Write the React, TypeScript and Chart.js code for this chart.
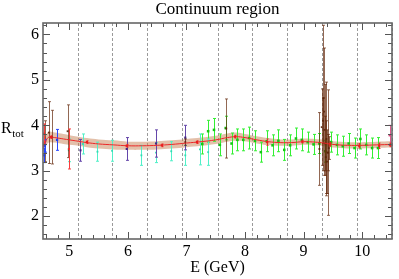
import { useEffect, useRef } from "react";
import { Chart, registerables } from "chart.js";
Chart.register(...registerables);

const X_MIN = 4.55;
const X_MAX = 10.51;
const Y_MIN = 1.5;
const Y_MAX = 6.25;
const xTickLabels = [5, 6, 7, 8, 9, 10];
const yTickLabels = [2, 3, 4, 5, 6];
const MINOR_STEP = 0.2;
const regionEdges = [5.14, 5.73, 6.33, 6.93, 7.53, 8.12, 8.72, 9.32, 9.92, 10.51];

// fitted band (centre and half width)
const bandX = [4.55, 4.6, 4.65, 4.75, 4.9, 5.1, 5.3, 5.5, 5.75, 6.0, 6.25, 6.5, 6.75, 7.0, 7.25, 7.5, 7.7, 7.85, 8.0, 8.2, 8.4, 8.6, 8.8, 9.0, 9.2, 9.35, 9.5, 9.75, 10.0, 10.25, 10.51];
const bandMid = [3.52, 3.66, 3.74, 3.73, 3.7, 3.66, 3.62, 3.59, 3.57, 3.55, 3.55, 3.56, 3.58, 3.61, 3.64, 3.68, 3.73, 3.75, 3.73, 3.68, 3.64, 3.62, 3.62, 3.64, 3.63, 3.61, 3.58, 3.56, 3.56, 3.57, 3.58];
const bandHalf = [0.12, 0.12, 0.12, 0.11, 0.11, 0.1, 0.1, 0.1, 0.1, 0.09, 0.09, 0.09, 0.09, 0.09, 0.09, 0.09, 0.09, 0.09, 0.08, 0.08, 0.08, 0.07, 0.07, 0.07, 0.07, 0.07, 0.07, 0.07, 0.07, 0.07, 0.07];

// data series
const redX = [4.69, 5.3, 5.98, 6.58, 7.18, 7.83, 8.38, 8.98, 9.45, 9.95, 10.29, 10.48];
const redY = [3.74, 3.63, 3.55, 3.56, 3.63, 3.75, 3.63, 3.64, 3.58, 3.55, 3.55, 3.57];
const redErr = [0.03, 0.03, 0.03, 0.03, 0.03, 0.03, 0.07, 0.03, 0.04, 0.05, 0.06, 0.04];

const redBarX = [4.57, 4.99];
const redBarY = [3.82, 3.48];
const redBarErr = [0.21, 0.44];

const pinkX = [10.47];
const pinkY = [3.78];
const pinkErr = [0.22];

const blueX = [4.57, 4.58, 4.79];
const blueY = [3.34, 3.55, 3.68];
const blueErr = [0.16, 0.14, 0.23];

const purpleX = [5.19, 5.98, 6.48, 6.98];
const purpleY = [3.45, 3.48, 3.6, 3.73];
const purpleErr = [0.24, 0.25, 0.3, 0.27];

const cyanX = [4.99, 5.23, 5.48, 5.73, 6.23, 6.48, 6.74, 6.98, 7.23, 7.37];
const cyanY = [3.45, 3.59, 3.42, 3.44, 3.34, 3.4, 3.43, 3.34, 3.47, 3.41];
const cyanErr = [0.25, 0.22, 0.21, 0.23, 0.22, 0.22, 0.21, 0.22, 0.34, 0.29];

const greenX = [7.27, 7.37, 7.47, 7.57, 7.67, 7.77, 7.87, 7.97, 8.07, 8.17, 8.27, 8.37, 8.47, 8.57, 8.67, 8.77, 8.87, 8.97, 9.07, 9.17, 9.27, 9.37, 9.47, 9.57, 9.67, 9.77, 9.87, 9.97, 10.07, 10.17, 10.27];
const greenY = [3.59, 3.87, 3.9, 3.57, 3.94, 3.6, 3.68, 3.68, 3.72, 3.66, 3.41, 3.65, 3.56, 3.66, 3.46, 3.56, 3.71, 3.68, 3.63, 3.58, 3.6, 3.43, 3.63, 3.57, 3.54, 3.6, 3.5, 3.7, 3.57, 3.5, 3.5];
const greenErr = [0.22, 0.24, 0.25, 0.24, 0.26, 0.23, 0.24, 0.24, 0.24, 0.22, 0.22, 0.23, 0.23, 0.24, 0.23, 0.23, 0.23, 0.24, 0.22, 0.22, 0.22, 0.24, 0.22, 0.22, 0.22, 0.22, 0.22, 0.22, 0.22, 0.22, 0.23];

const brownX = [4.59, 4.65, 4.7, 4.97, 6.98, 7.68, 9.27, 9.31, 9.33, 9.34, 9.35, 9.36, 9.37, 9.38, 9.39, 9.4, 9.41, 9.42, 9.43];
const brownY = [3.65, 3.84, 3.74, 3.87, 3.63, 3.93, 3.48, 3.96, 4.1, 4.6, 4.3, 3.9, 3.6, 3.3, 3.7, 3.2, 3.4, 3.4, 3.5];
const brownErr = [0.45, 0.68, 0.59, 0.58, 0.07, 0.65, 0.8, 0.84, 0.5, 1.6, 1.4, 1.0, 0.6, 0.8, 1.25, 0.7, 1.38, 0.4, 0.25];

const SERIF = "'Liberation Serif', 'DejaVu Serif', serif";

const pts = (xs: number[], ys: number[]) => xs.map((x, i) => ({ x, y: ys[i] }));

function minorTicks(min: number, max: number, step: number) {
  const out: number[] = [];
  for (let k = Math.ceil(min / step - 1e-9); k * step <= max + 1e-9; k++) out.push(+(k * step).toFixed(4));
  return out;
}

const errorBarPlugin = {
  id: "errorBars",
  beforeDatasetDraw(chart: any, args: any) {
    const ds = chart.data.datasets[args.index];
    if (!ds.errors) return;
    const { ctx, chartArea, scales } = chart;
    const xs = scales.x, ys = scales.y;
    ctx.save();
    ctx.beginPath();
    ctx.rect(chartArea.left, chartArea.top, chartArea.right - chartArea.left, chartArea.bottom - chartArea.top);
    ctx.clip();
    ctx.strokeStyle = ds.errColor;
    ctx.lineWidth = ds.errWidth || 1;
    const cap = ds.capHalf ?? 1.5;
    ds.data.forEach((p: any, i: number) => {
      const e = ds.errors[i];
      const px = Math.round(xs.getPixelForValue(p.x)) + 0.5;
      const y1 = ys.getPixelForValue(p.y + e);
      const y2 = ys.getPixelForValue(p.y - e);
      ctx.beginPath();
      ctx.moveTo(px, y1);
      ctx.lineTo(px, y2);
      if (cap > 0) {
        ctx.moveTo(px - cap, y1);
        ctx.lineTo(px + cap, y1);
        ctx.moveTo(px - cap, y2);
        ctx.lineTo(px + cap, y2);
      }
      ctx.stroke();
    });
    ctx.restore();
  },
};

const framePlugin = {
  id: "frame",
  beforeDatasetsDraw(chart: any) {
    const { ctx, chartArea, scales } = chart;
    ctx.save();
    ctx.strokeStyle = "#9a9a9a";
    ctx.lineWidth = 1;
    ctx.setLineDash([3, 2]);
    regionEdges.forEach((v) => {
      const px = Math.round(scales.x.getPixelForValue(v)) + 0.5;
      ctx.beginPath();
      ctx.moveTo(px, chartArea.top);
      ctx.lineTo(px, chartArea.bottom);
      ctx.stroke();
    });
    ctx.restore();
  },
  afterDraw(chart: any) {
    const { ctx, chartArea, scales } = chart;
    const { left, right, top, bottom } = chartArea;
    ctx.save();
    ctx.strokeStyle = "#555";
    ctx.lineWidth = 1;
    const major = 7, minor = 4;
    minorTicks(X_MIN, X_MAX, MINOR_STEP).forEach((v) => {
      const isMajor = xTickLabels.some((t) => Math.abs(t - v) < 1e-6);
      const L = isMajor ? major : minor;
      const px = Math.round(scales.x.getPixelForValue(v)) + 0.5;
      ctx.beginPath();
      ctx.moveTo(px, bottom);
      ctx.lineTo(px, bottom - L);
      ctx.moveTo(px, top);
      ctx.lineTo(px, top + L);
      ctx.stroke();
    });
    minorTicks(Y_MIN, Y_MAX, MINOR_STEP).forEach((v) => {
      const isMajor = yTickLabels.some((t) => Math.abs(t - v) < 1e-6);
      const L = isMajor ? major : minor;
      const py = Math.round(scales.y.getPixelForValue(v)) + 0.5;
      ctx.beginPath();
      ctx.moveTo(left, py);
      ctx.lineTo(left + L, py);
      ctx.moveTo(right, py);
      ctx.lineTo(right - L, py);
      ctx.stroke();
    });
    ctx.lineWidth = 1.6;
    ctx.strokeStyle = "#666";
    ctx.strokeRect(left, top, right - left, bottom - top);
    // title and y label
    ctx.fillStyle = "#000";
    ctx.textBaseline = "alphabetic";
    ctx.textAlign = "center";
    ctx.font = `17px ${SERIF}`;
    ctx.fillText("Continuum region", (left + right) / 2, 14);
    ctx.textAlign = "left";
    ctx.font = `16px ${SERIF}`;
    ctx.fillText("R", 1, 133);
    const rw = ctx.measureText("R").width;
    ctx.font = `11px ${SERIF}`;
    ctx.fillText("tot", 1 + rw + 0.5, 137);
    ctx.restore();
  },
};

function errSet(label: string, xs: number[], ys: number[], errs: number[], color: string, marker: string, radius: number, cap = 1.5) {
  return {
    type: "scatter" as const,
    label,
    data: pts(xs, ys),
    errors: errs,
    errColor: color,
    capHalf: cap,
    showLine: false,
    pointStyle: "rect",
    pointRadius: radius,
    pointBackgroundColor: marker,
    pointBorderColor: marker,
    pointBorderWidth: 0,
  };
}

export default function App() {
  const ref = useRef<HTMLCanvasElement>(null);
  useEffect(() => {
    if (!ref.current) return;
    const bandUp = bandX.map((x, i) => ({ x, y: bandMid[i] + bandHalf[i] }));
    const bandLow = bandX.map((x, i) => ({ x, y: bandMid[i] - bandHalf[i] }));
    const chart = new Chart(ref.current, {
      type: "scatter",
      data: {
        datasets: [
          errSet("red", redX, redY, redErr, "rgba(235,40,40,0.9)", "rgb(235,30,30)", 1.6, 1),
          {
            type: "line",
            label: "fit",
            data: pts(bandX, bandMid),
            borderColor: "rgb(235,40,40)",
            borderWidth: 1,
            pointRadius: 0,
            tension: 0.4,
            fill: false,
          } as any,
          errSet("pink", pinkX, pinkY, pinkErr, "rgb(220,90,140)", "rgb(220,60,120)", 1.5, 2),
          errSet("redbars", redBarX, redBarY, redBarErr, "rgb(250,60,60)", "rgb(240,40,40)", 1.3, 1.5),
          errSet("blue", blueX, blueY, blueErr, "rgb(40,70,255)", "rgb(30,60,240)", 1.6, 1.5),
          errSet("brown", brownX, brownY, brownErr, "rgba(100,40,12,0.7)", "rgba(90,35,10,0.9)", 1.3, 1.5),
          errSet("purple", purpleX, purpleY, purpleErr, "rgb(100,70,170)", "rgb(70,40,130)", 1.5, 1.5),
          errSet("cyan", cyanX, cyanY, cyanErr, "rgb(80,240,200)", "rgb(50,220,180)", 1.3, 1.5),
          errSet("green", greenX, greenY, greenErr, "rgb(50,240,50)", "rgb(20,200,20)", 1.8, 1.5),
          {
            type: "line",
            label: "bandUp",
            data: bandUp,
            borderWidth: 0,
            borderColor: "rgba(0,0,0,0)",
            pointRadius: 0,
            tension: 0.4,
            fill: "+1",
            backgroundColor: "rgba(200,130,85,0.5)",
          } as any,
          {
            type: "line",
            label: "bandLow",
            data: bandLow,
            borderWidth: 0,
            borderColor: "rgba(0,0,0,0)",
            pointRadius: 0,
            tension: 0.4,
            fill: false,
          } as any,
        ],
      },
      options: {
        animation: false,
        responsive: false,
        layout: { padding: { top: 23, right: 7, left: 0, bottom: 0 } },
        plugins: { legend: { display: false }, tooltip: { enabled: false }, title: { display: false } },
        scales: {
          x: {
            type: "linear",
            position: "bottom",
            min: X_MIN,
            max: X_MAX,
            grid: { display: false, drawTicks: false },
            border: { display: false },
            afterBuildTicks: (s: any) => {
              s.ticks = xTickLabels.map((v) => ({ value: v }));
            },
            afterFit: (s: any) => {
              s.height = 40;
            },
            ticks: {
              autoSkip: false,
              maxRotation: 0,
              padding: 3,
              color: "#000",
              font: { family: SERIF, size: 16 },
            },
            title: {
              display: true,
              text: "E (GeV)",
              color: "#000",
              font: { family: SERIF, size: 16 },
              padding: { top: 0, bottom: 2 },
            },
          },
          y: {
            type: "linear",
            min: Y_MIN,
            max: Y_MAX,
            grid: { display: false, drawTicks: false },
            border: { display: false },
            afterBuildTicks: (s: any) => {
              s.ticks = yTickLabels.map((v) => ({ value: v }));
            },
            afterFit: (s: any) => {
              s.width = 43;
            },
            ticks: {
              autoSkip: false,
              padding: 4,
              color: "#000",
              font: { family: SERIF, size: 16 },
            },
          },
        },
      } as any,
      plugins: [errorBarPlugin, framePlugin],
    });
    return () => chart.destroy();
  }, []);
  return (
    <div style={{ position: "fixed", left: 0, top: 0, width: 399, height: 279, background: "#fff" }}>
      <canvas ref={ref} width={399} height={279} style={{ display: "block" }} />
    </div>
  );
}
